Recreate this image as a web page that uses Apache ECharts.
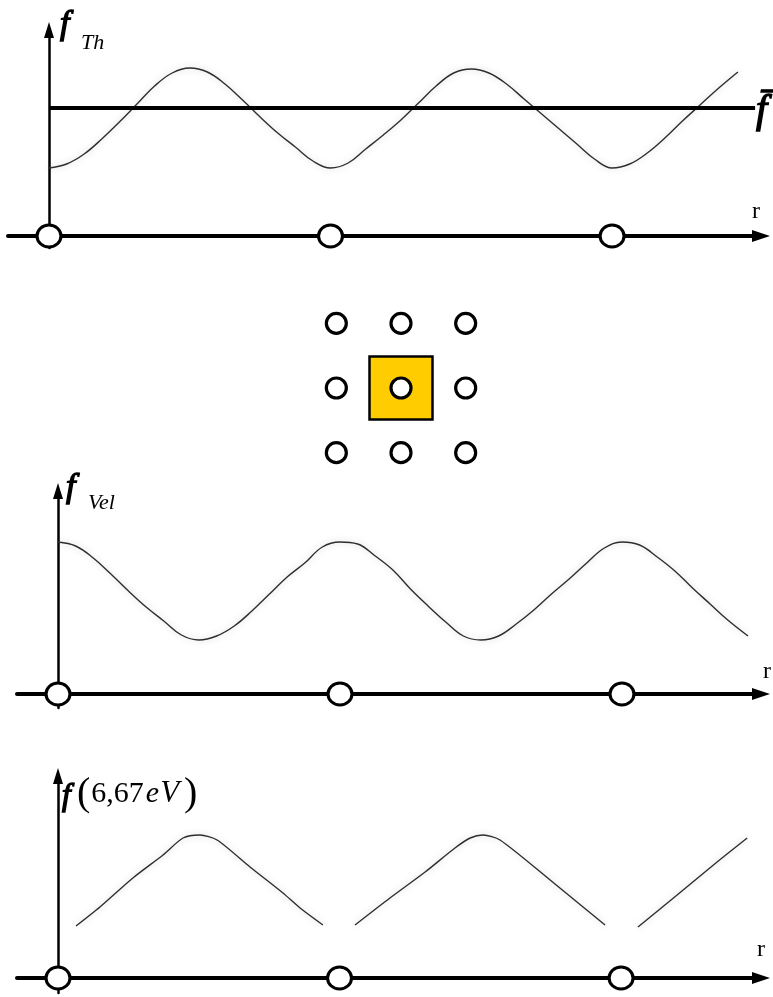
<!DOCTYPE html>
<html>
<head>
<meta charset="utf-8">
<script src="https://cdn.jsdelivr.net/npm/echarts@6/dist/echarts.min.js"></script>
<style>
  html, body { margin: 0; padding: 0; background: #ffffff; }
  #chart { width: 773px; height: 997px; }
</style>
</head>
<body>
<div id="chart"></div>
<script>
// Lattice sites along r (in units of the lattice spacing)
const atomSites = [0, 1, 2];

// Thermal term f_Th along r
const thermalR = [0, 0.0625, 0.125, 0.1875, 0.25, 0.3125, 0.375, 0.4375, 0.5,
                  0.5625, 0.625, 0.6875, 0.75, 0.8125, 0.875, 0.9375, 1.0,
                  1.0625, 1.125, 1.1875, 1.25, 1.3125, 1.375, 1.4375, 1.5,
                  1.5625, 1.625, 1.6875, 1.75, 1.8125, 1.875, 1.9375, 2.0,
                  2.0625, 2.125, 2.1875, 2.25, 2.3125, 2.375, 2.447];
const thermalF = [3.4, 3.6, 4.1, 4.85, 5.7, 6.6, 7.5, 8.15, 8.4,
                  8.2, 7.6, 6.8, 5.95, 5.15, 4.45, 3.75, 3.4,
                  3.65, 4.35, 5.05, 5.8, 6.65, 7.5, 8.15, 8.35,
                  8.15, 7.6, 6.85, 6.1, 5.35, 4.6, 3.85, 3.4,
                  3.6, 4.15, 4.9, 5.75, 6.55, 7.35, 8.2];
// Mean level f-bar and the r range it spans
const meanLevel = 6.4;
const meanSpan = [0, 2.508];

// Velocity term f_Vel along r
const velocityR = [0, 0.0625, 0.125, 0.1875, 0.25, 0.3125, 0.375, 0.4375, 0.5,
                   0.5625, 0.625, 0.6875, 0.75, 0.8125, 0.875, 0.9375, 1.0,
                   1.0625, 1.125, 1.1875, 1.25, 1.3125, 1.375, 1.4375, 1.5,
                   1.5625, 1.625, 1.6875, 1.75, 1.8125, 1.875, 1.9375, 2.0,
                   2.0625, 2.125, 2.1875, 2.25, 2.3125, 2.375, 2.447];
const velocityF = [7.6, 7.4, 6.8, 6.0, 5.15, 4.35, 3.65, 2.95, 2.7,
                   2.9, 3.4, 4.15, 5.0, 5.85, 6.55, 7.35, 7.6,
                   7.5, 6.9, 6.2, 5.25, 4.4, 3.6, 2.9, 2.7,
                   2.9, 3.5, 4.2, 5.0, 5.75, 6.55, 7.3, 7.6,
                   7.45, 6.85, 6.15, 5.3, 4.5, 3.7, 2.9];

// f(6,67 eV): three separate branches between sites
const branch1R = [0.064, 0.149, 0.266, 0.373, 0.444, 0.504, 0.565, 0.682, 0.799, 0.86, 0.941];
const branch1F = [2.6, 3.55, 5.0, 6.15, 7.0, 7.15, 6.9, 5.55, 4.25, 3.5, 2.65];
const branch2R = [1.055, 1.179, 1.304, 1.41, 1.464, 1.51, 1.57, 1.748, 1.865, 1.943];
const branch2F = [2.65, 4.0, 5.3, 6.5, 7.0, 7.15, 6.9, 4.9, 3.55, 2.65];
const branch3R = [2.06, 2.199, 2.341, 2.448];
const branch3F = [2.55, 4.15, 5.8, 7.0];

// 3x3 neighbourhood of sites with the central cell
const latticeCols = [-1, 0, 1];
const latticeRows = [-1, 0, 1];
const centralCell = [0, 0];

const pairs = (xs, ys) => xs.map((x, i) => [x, ys[i]]);

const curveStyle = {
  color: '#2e2e2e',
  width: 1.4,
  shadowBlur: 7,
  shadowColor: 'rgba(0,0,0,0.22)'
};

function curve(gridIndex, data, smooth) {
  return {
    type: 'line', xAxisIndex: gridIndex, yAxisIndex: gridIndex,
    data: data, smooth: smooth, showSymbol: false, symbol: 'none',
    lineStyle: curveStyle, silent: true, z: 3
  };
}

function sites(gridIndex) {
  return {
    type: 'scatter', xAxisIndex: gridIndex, yAxisIndex: gridIndex,
    data: atomSites.map(s => [s, 0]),
    symbol: 'circle', symbolSize: [24, 22],
    itemStyle: { color: '#ffffff', borderColor: '#000000', borderWidth: 3, opacity: 1 },
    silent: true, z: 5
  };
}

function rAxis(gridIndex, min, max) {
  return {
    type: 'value', gridIndex: gridIndex, min: min, max: max,
    axisLine: { show: true, onZero: true, symbol: ['none', 'triangle'], symbolSize: [12, 18],
                lineStyle: { color: '#000', width: 4 } },
    axisTick: { show: false }, axisLabel: { show: false }, splitLine: { show: false }
  };
}

function fAxis(gridIndex, min, max) {
  return {
    type: 'value', gridIndex: gridIndex, min: min, max: max,
    axisLine: { show: true, onZero: true, symbol: ['none', 'triangle'], symbolSize: [10, 16],
                lineStyle: { color: '#000', width: 2.5 } },
    axisTick: { show: false }, axisLabel: { show: false }, splitLine: { show: false }
  };
}

const hiddenAxis = (gridIndex) => ({
  type: 'value', gridIndex: gridIndex, min: -1.5, max: 1.5, show: false
});

const serif = 'Liberation Serif';
// plain serif label; heavy=true draws the italic face with an outline for a bold look
function label(x, y, text, size, italic, heavy) {
  return {
    type: 'text', x: x, y: y, silent: true, z: 20,
    style: {
      text: text, fill: '#000',
      fontFamily: serif, fontSize: size,
      fontStyle: italic ? 'italic' : 'normal', fontWeight: 'normal',
      stroke: heavy ? '#000' : null, lineWidth: heavy ? 1.4 : 0,
      align: 'left', verticalAlign: 'middle'
    }
  };
}

const chart = echarts.init(document.getElementById('chart'), null, { renderer: 'canvas' });

chart.setOption({
  animation: false,
  backgroundColor: '#ffffff',
  grid: [
    { left: 8, top: 30, width: 753, height: 218, outerBoundsMode: 'none' },
    { left: 304, top: 291, width: 194, height: 194, outerBoundsMode: 'none' },
    { left: 17, top: 491, width: 744, height: 217, outerBoundsMode: 'none' },
    { left: 17, top: 776, width: 744, height: 217, outerBoundsMode: 'none' }
  ],
  xAxis: [
    rAxis(0, -0.1456, 2.529),
    hiddenAxis(1),
    rAxis(2, -0.1454, 2.493),
    rAxis(3, -0.1456, 2.497)
  ],
  yAxis: [
    fAxis(0, -0.6, 10.3),
    hiddenAxis(1),
    fAxis(2, -0.7, 10.15),
    fAxis(3, -0.75, 10.1)
  ],
  series: [
    // f_Th panel
    curve(0, pairs(thermalR, thermalF), 0.4),
    {
      type: 'line', xAxisIndex: 0, yAxisIndex: 0,
      data: meanSpan.map(r => [r, meanLevel]),
      showSymbol: false, symbol: 'none',
      lineStyle: { color: '#000', width: 4 }, silent: true, z: 4
    },
    sites(0),

    // neighbourhood of lattice sites
    {
      type: 'scatter', xAxisIndex: 1, yAxisIndex: 1,
      data: [centralCell],
      symbol: 'rect', symbolSize: 63,
      itemStyle: { color: '#FFCC00', borderColor: '#000', borderWidth: 2.5, opacity: 1 },
      silent: true, z: 2
    },
    {
      type: 'scatter', xAxisIndex: 1, yAxisIndex: 1,
      data: latticeRows.flatMap(row => latticeCols.map(col => [col, row])),
      symbol: 'circle', symbolSize: 20,
      itemStyle: { color: '#ffffff', borderColor: '#000', borderWidth: 3.2, opacity: 1 },
      silent: true, z: 5
    },

    // f_Vel panel
    curve(2, pairs(velocityR, velocityF), 0.4),
    sites(2),

    // f(6,67 eV) panel
    curve(3, pairs(branch1R, branch1F), 0.25),
    curve(3, pairs(branch2R, branch2F), 0.25),
    curve(3, pairs(branch3R, branch3F), 0.25),
    sites(3)
  ],
  graphic: [
    label(60, 25, 'f', 34, true, true),
    label(81, 43, 'Th', 22, true),
    label(756, 111, 'f\u0304', 40, true, true),
    label(752, 212, 'r', 24),

    label(66, 488, 'f', 34, true, true),
    label(88, 503, 'Vel', 22, true),
    label(763, 672, 'r', 24),

    label(62, 797, 'f', 31, true, true),
    {
      type: 'text', x: 76, y: 794, silent: true, z: 20,
      style: {
        text: '{p|(}{n|6,67}{e|e}{v|V}{p|)}',
        fill: '#000', align: 'left', verticalAlign: 'middle',
        rich: {
          p: { fontFamily: serif, fontSize: 40, verticalAlign: 'middle', padding: [0, 1, 0, 1] },
          n: { fontFamily: serif, fontSize: 30, verticalAlign: 'middle' },
          e: { fontFamily: serif, fontStyle: 'italic', fontSize: 30, verticalAlign: 'middle', padding: [0, 1, 0, 2] },
          v: { fontFamily: serif, fontStyle: 'italic', fontSize: 31, verticalAlign: 'middle', padding: [0, 4, 0, 0] }
        }
      }
    },
    label(757, 950, 'r', 24)
  ]
});
</script>
</body>
</html>
